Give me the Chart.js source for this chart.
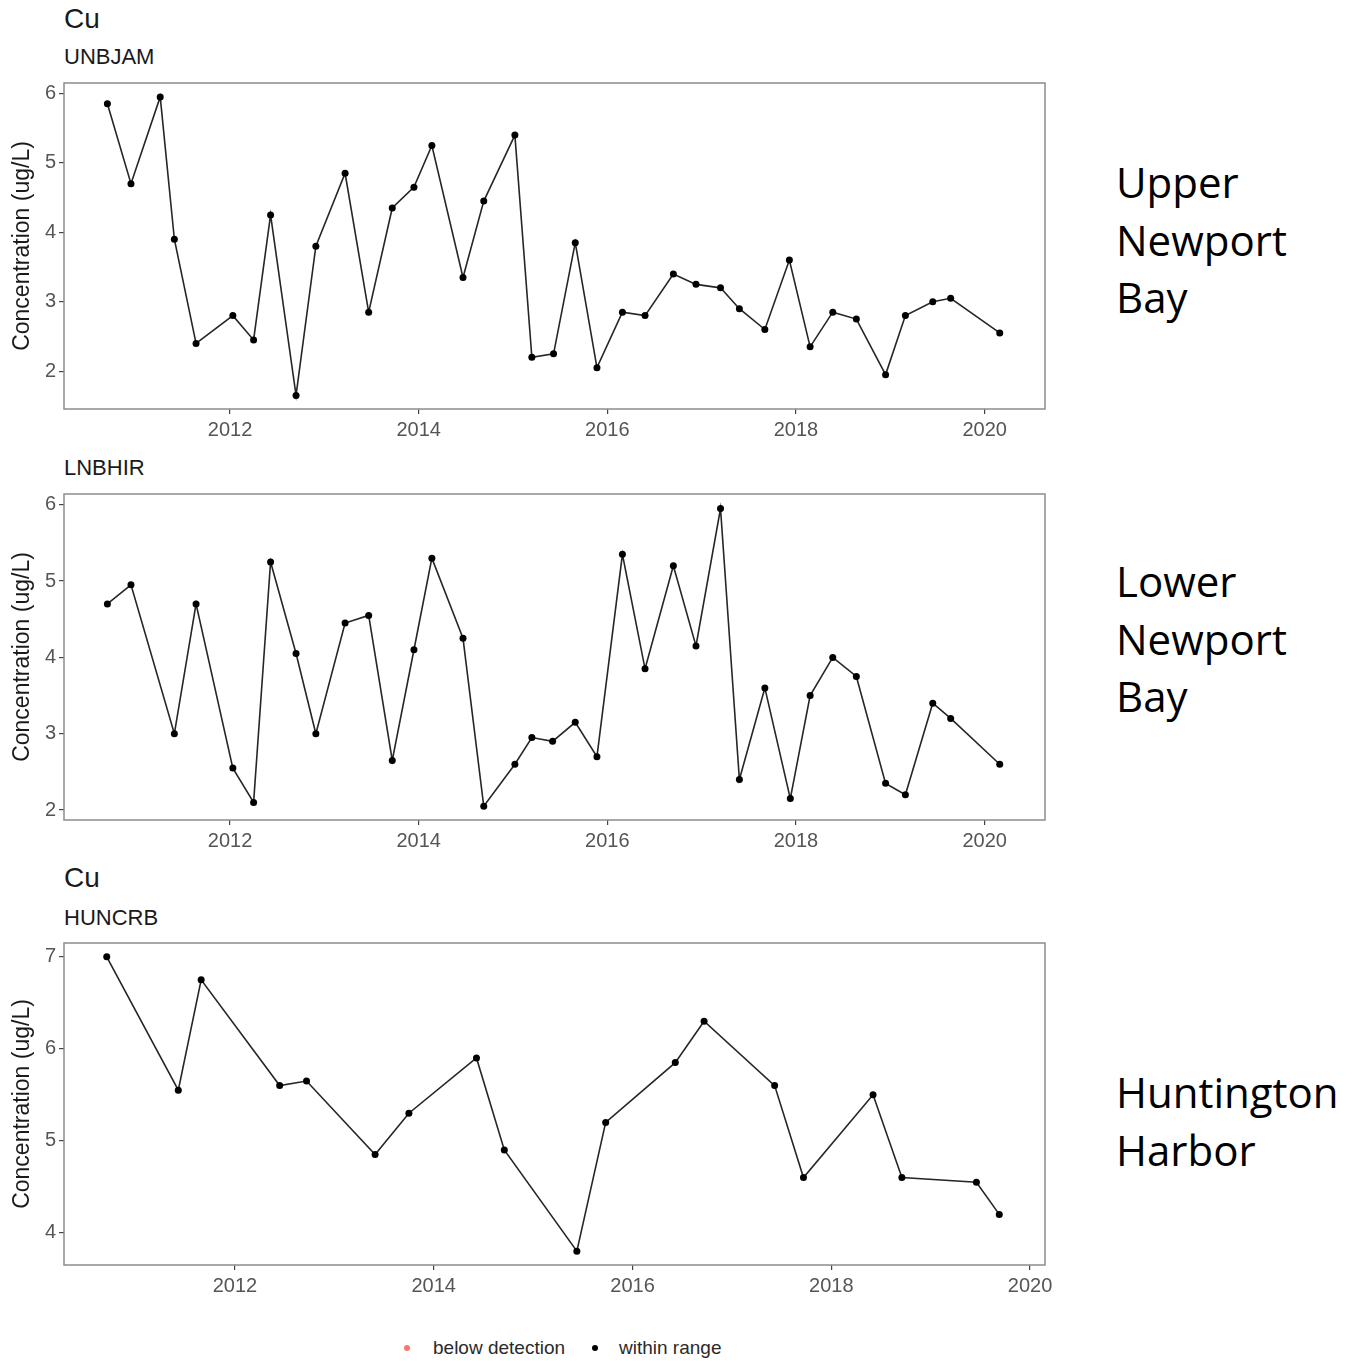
<!DOCTYPE html>
<html>
<head>
<meta charset="utf-8">
<script src="https://cdn.jsdelivr.net/npm/chart.js@4/dist/chart.umd.min.js"></script>
<style>
  html, body { margin: 0; padding: 0; background: #fff; }
  body { width: 1361px; height: 1361px; position: relative; overflow: hidden; font-family: "Liberation Sans", Arial, sans-serif; }
  .abs { position: absolute; }
  .title { color: #1a1a1a; font-size: 28px; line-height: 30px; }
  .sub { color: #1a1a1a; font-size: 22px; line-height: 26px; }
  .site { font-family: "Open Sans", sans-serif; font-size: 42px; line-height: 57.5px; color: #000; }
  .legend { top: 1336px; left: 0; font-size: 19px; color: #2a2a2a; line-height: 24px; }
  .dot { position: absolute; width: 6px; height: 6px; border-radius: 50%; top: 9px; }
</style>
</head>
<body>

<div class="abs title" style="left:64px;top:4px;">Cu</div>
<div class="abs sub" style="left:64px;top:44px;">UNBJAM</div>
<div class="abs sub" style="left:64px;top:455px;">LNBHIR</div>
<div class="abs title" style="left:64px;top:863px;">Cu</div>
<div class="abs sub" style="left:64px;top:905px;">HUNCRB</div>

<div class="abs site" style="left:1116px;top:153px;">Upper<br>Newport<br>Bay</div>
<div class="abs site" style="left:1116px;top:552px;">Lower<br>Newport<br>Bay</div>
<div class="abs site" style="left:1116px;top:1063px;">Huntington<br>Harbor</div>

<div class="abs legend" style="width:1361px;height:24px;">
  <span class="dot" style="left:404px;background:#F8766D;"></span>
  <span class="abs" style="left:433px;top:0;">below detection</span>
  <span class="dot" style="left:592px;background:#000;"></span>
  <span class="abs" style="left:619px;top:0;">within range</span>
</div>

<div class="abs" id="wrap1"><canvas id="c1"></canvas></div>
<div class="abs" id="wrap2"><canvas id="c2"></canvas></div>
<div class="abs" id="wrap3"><canvas id="c3"></canvas></div>

<script>
// sampling dates (decimal year) and copper concentration, ug/L
const upperDates = [2010.70, 2010.95, 2011.26, 2011.41, 2011.64, 2012.03, 2012.25, 2012.43, 2012.70, 2012.91,
  2013.22, 2013.47, 2013.72, 2013.95, 2014.14, 2014.47, 2014.69, 2015.02, 2015.20, 2015.43,
  2015.66, 2015.89, 2016.16, 2016.40, 2016.70, 2016.94, 2017.20, 2017.40, 2017.67, 2017.93,
  2018.15, 2018.39, 2018.64, 2018.95, 2019.16, 2019.45, 2019.64, 2020.16];
const upperCu = [5.85, 4.7, 5.95, 3.9, 2.4, 2.8, 2.45, 4.25, 1.65, 3.8,
  4.85, 2.85, 4.35, 4.65, 5.25, 3.35, 4.45, 5.4, 2.2, 2.25,
  3.85, 2.05, 2.85, 2.8, 3.4, 3.25, 3.2, 2.9, 2.6, 3.6,
  2.35, 2.85, 2.75, 1.95, 2.8, 3.0, 3.05, 2.55];

const lowerDates = [2010.70, 2010.95, 2011.41, 2011.64, 2012.03, 2012.25, 2012.43, 2012.70, 2012.91, 2013.22,
  2013.47, 2013.72, 2013.95, 2014.14, 2014.47, 2014.69, 2015.02, 2015.20, 2015.42, 2015.66,
  2015.89, 2016.16, 2016.40, 2016.70, 2016.94, 2017.20, 2017.40, 2017.67, 2017.94, 2018.15,
  2018.39, 2018.64, 2018.95, 2019.16, 2019.45, 2019.64, 2020.16];
const lowerCu = [4.7, 4.95, 3.0, 4.7, 2.55, 2.1, 5.25, 4.05, 3.0, 4.45,
  4.55, 2.65, 4.1, 5.3, 4.25, 2.05, 2.6, 2.95, 2.9, 3.15,
  2.7, 5.35, 3.85, 5.2, 4.15, 5.95, 2.4, 3.6, 2.15, 3.5,
  4.0, 3.75, 2.35, 2.2, 3.4, 3.2, 2.6];

const hunDates = [2010.71, 2011.43, 2011.66, 2012.45, 2012.72, 2013.41, 2013.75, 2014.43, 2014.71, 2015.44,
  2015.73, 2016.43, 2016.72, 2017.43, 2017.72, 2018.42, 2018.71, 2019.46, 2019.69];
const hunCu = [7.0, 5.55, 6.75, 5.6, 5.65, 4.85, 5.3, 5.9, 4.9, 3.8,
  5.2, 5.85, 6.3, 5.6, 4.6, 5.5, 4.6, 4.55, 4.2];

const yearTicks = [2012, 2014, 2016, 2018, 2020];
const bayTicks = [2, 3, 4, 5, 6];
const harborTicks = [4, 5, 6, 7];

// panel box outline, ggplot style
const boxPlugin = {
  id: "box",
  beforeDatasetsDraw(chart) {
    const a = chart.chartArea;
    const ctx = chart.ctx;
    ctx.save();
    ctx.strokeStyle = "#8c8c8c";
    ctx.lineWidth = 1.5;
    ctx.strokeRect(a.left, a.top, a.right - a.left, a.bottom - a.top);
    ctx.restore();
  }
};

function makePanel(id, wrapId, top, boxH, dates, vals, xr, yr, yTicks) {
  // extra room around the plot area so tick labels never push it inward
  const padTop = 18, padRight = 34, axisH = 44;
  const wrap = document.getElementById(wrapId);
  wrap.style.left = "0px";
  wrap.style.top = (top - padTop) + "px";
  wrap.style.width = (1045 + padRight) + "px";
  wrap.style.height = (boxH + padTop + axisH) + "px";

  const pts = dates.map((d, i) => ({ x: d, y: vals[i] }));
  const tickFont = { family: "Liberation Sans", size: 20 };

  return new Chart(document.getElementById(id), {
    type: "line",
    data: {
      datasets: [{
        label: "within range",
        data: pts,
        borderColor: "#262626",
        borderWidth: 1.6,
        backgroundColor: "#000",
        pointRadius: 3.5,
        pointBorderWidth: 0,
        tension: 0
      }]
    },
    plugins: [boxPlugin],
    options: {
      responsive: true,
      maintainAspectRatio: false,
      animation: false,
      layout: { padding: { top: padTop, right: padRight, left: 0, bottom: 0 } },
      plugins: { legend: { display: false }, tooltip: { enabled: false } },
      scales: {
        x: {
          type: "linear",
          min: xr[0],
          max: xr[1],
          border: { display: false },
          grid: { drawOnChartArea: false, drawTicks: true, tickLength: 5, color: "#444", lineWidth: 1.2 },
          afterBuildTicks: (s) => { s.ticks = yearTicks.map(v => ({ value: v })); },
          afterFit: (s) => { s.height = axisH; },
          ticks: { color: "#555", font: tickFont, padding: 4, maxRotation: 0, autoSkip: false,
            callback: (v) => String(v) }
        },
        y: {
          min: yr[0],
          max: yr[1],
          border: { display: false },
          grid: { drawOnChartArea: false, drawTicks: true, tickLength: 5, color: "#444", lineWidth: 1.2 },
          afterBuildTicks: (s) => { s.ticks = yTicks.map(v => ({ value: v })); },
          afterFit: (s) => { s.width = 64; },
          ticks: { color: "#555", font: tickFont, padding: 3, autoSkip: false,
            callback: (v) => String(v) },
          title: {
            display: true,
            text: "Concentration (ug/L)",
            color: "#1a1a1a",
            font: { family: "Liberation Sans", size: 23 },
            padding: { top: 9, bottom: 0 }
          }
        }
      }
    }
  });
}

makePanel("c1", "wrap1", 83, 326, upperDates, upperCu, [2010.24, 2020.64], [1.455, 6.15], bayTicks);
makePanel("c2", "wrap2", 494, 326, lowerDates, lowerCu, [2010.24, 2020.64], [1.87, 6.14], bayTicks);
makePanel("c3", "wrap3", 943, 322, hunDates, hunCu, [2010.28, 2020.15], [3.65, 7.15], harborTicks);
</script>
</body>
</html>
